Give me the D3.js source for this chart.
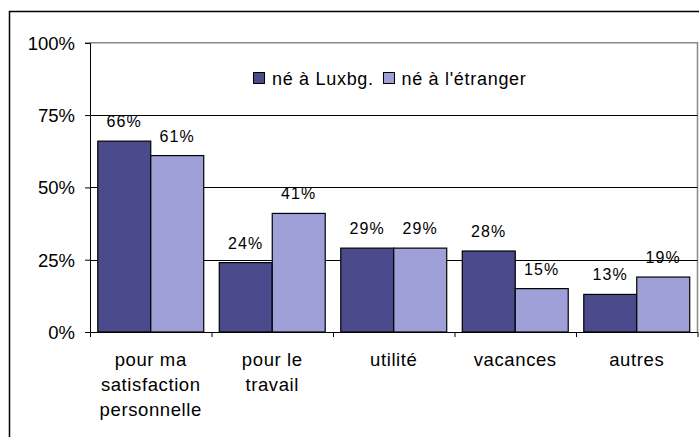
<!DOCTYPE html>
<html><head><meta charset="utf-8">
<script src="https://cdn.jsdelivr.net/npm/d3@7"></script>
<style>body{margin:0;background:#fff}svg{display:block;font-family:"Liberation Sans",Arial,sans-serif}</style>
</head><body><svg id="c" width="699" height="437"></svg>
<script>
const categories = [["pour ma","satisfaction","personnelle"],["pour le","travail"],["utilité"],["vacances"],["autres"]];
const seriesNames = ["né à Luxbg.","né à l'étranger"];
const luxValues = [66,24,29,28,13];
const etrValues = [61,41,29,15,19];
const yTicks = [0,25,50,75,100];
const colors = ["#4a4a8c","#a0a0d8"];

const svg = d3.select("#c");
const L=90, R=697.5, T=42.8, B=332;
// outer border
svg.append("rect").attr("x",9.5).attr("y",11.5).attr("width",900).attr("height",900).attr("fill","none").attr("stroke","#000").attr("stroke-width",1.5);

const x = d3.scaleBand().domain(d3.range(categories.length)).range([L,R]).paddingInner(0.128).paddingOuter(0.064);
const xs = d3.scaleBand().domain([0,1]).range([0,x.bandwidth()]);
const y = d3.scaleLinear().domain([0,100]).range([B,T]);

// plot border (top & right gray)
svg.append("path").attr("d",`M${L},${T}H${R}V${B}`).attr("fill","none").attr("stroke","#888").attr("stroke-width",1.5);
// gridlines
svg.append("g").selectAll("line").data(yTicks.filter(t=>t>0&&t<100)).join("line")
  .attr("x1",L).attr("x2",R).attr("y1",d=>Math.round(y(d))+0.5).attr("y2",d=>Math.round(y(d))+0.5).attr("stroke","#000");

// bars
const data = categories.map((c,i)=>[luxValues[i],etrValues[i]]);
const g = svg.append("g");
data.forEach((vals,i)=>{
  vals.forEach((v,s)=>{
    const bx = x(i)+xs(s);
    g.append("rect").attr("x",bx).attr("y",y(v)).attr("width",xs.bandwidth()).attr("height",B-y(v))
      .attr("fill",colors[s]).attr("stroke","#000").attr("stroke-width",1.2);
    g.append("text").attr("x",bx+xs.bandwidth()/2).attr("y",y(v)-14).attr("text-anchor","middle")
      .attr("font-size",16).attr("letter-spacing",1.1).attr("fill","#000").text(v+"%");
  });
});

// y axis
const ya = d3.axisLeft(y).tickValues(yTicks).tickFormat(d=>d+"%").tickSize(5).tickPadding(10);
const yg = svg.append("g").attr("transform",`translate(${L},0)`).call(ya);
yg.select(".domain").attr("stroke","#000");
yg.selectAll("text").attr("font-size",18.5).attr("fill","#000").attr("dy","0.35em").style("font-family","Liberation Sans, Arial, sans-serif");

// x axis
const xa = d3.axisBottom(d3.scaleLinear().domain([0,categories.length]).range([L,R])).tickValues(d3.range(categories.length+1)).tickFormat("").tickSize(5);
const xg = svg.append("g").attr("transform",`translate(0,${B})`).call(xa);
xg.select(".domain").attr("d",`M${L},0.5H${R}`).attr("stroke","#000");
xg.selectAll(".tick line").attr("stroke","#000");

// category labels
categories.forEach((lines,i)=>{
  const t = svg.append("text").attr("text-anchor","middle").attr("font-size",18.5).attr("letter-spacing",0.6).attr("fill","#000");
  lines.forEach((ln,k)=>t.append("tspan").attr("x",x(i)+x.bandwidth()/2).attr("y",366+k*25).text(ln));
});

// legend
const leg = [{x:253,tx:272},{x:383,tx:401.5}];
seriesNames.forEach((n,s)=>{
  svg.append("rect").attr("x",leg[s].x+0.5).attr("y",72.5).attr("width",11).attr("height",11).attr("fill",colors[s]).attr("stroke","#000");
  svg.append("text").attr("x",leg[s].tx).attr("y",85).attr("font-size",18).attr("letter-spacing",0.7).attr("fill","#000").text(n);
});
</script></body></html>
